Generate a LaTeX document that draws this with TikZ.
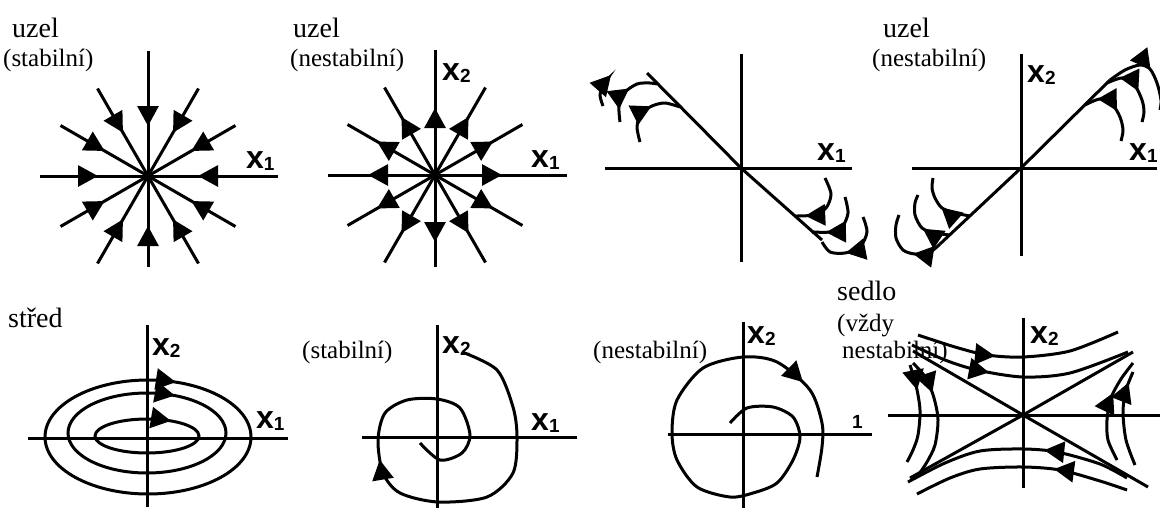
\documentclass[tikz,border=0pt]{standalone}
\usepackage{fontspec}
\setmainfont{Liberation Serif}
\setsansfont{Liberation Sans}
\usetikzlibrary{arrows.meta,decorations.markings,calc}
\newcommand{\xlab}[1]{x\raisebox{-2pt}{\fontsize{19}{19}\selectfont #1}}

\begin{document}
\begin{tikzpicture}[x=1pt, y=1pt,
    axis/.style={line width=3pt},
    traj/.style={line width=3pt},
    arrowat/.style={postaction={decorate}, decoration={markings,
        mark=at position #1 with {\arrow{Triangle[length=20pt,width=21pt]}}}},
    endarrow/.style={-{Triangle[length=20pt,width=21pt]}},
    title/.style={font=\fontsize{28}{28}\selectfont, anchor=base west, inner sep=0pt},
    note/.style={font=\fontsize{25}{25}\selectfont, anchor=base west, inner sep=0pt},
    axlab/.style={font=\fontsize{32}{32}\selectfont\sffamily\bfseries, anchor=base west, inner sep=0pt}]
\useasboundingbox (0,0) rectangle (1160,-509);
\fill[white] (0,0) rectangle (1160,-509);

% Stable node
\coordinate (o1) at (148,-176);
\foreach \a/\l in {0/130, 30/101, 60/101, 90/125, 120/101, 150/101,
    180/108, 210/101, 240/101, 270/91, 300/101, 330/101}
  \draw[traj, arrowat=-50pt] ($(o1)+(\a:\l)$) -- (o1);
\node[title] (uzel1) at (12,-37) {uzel};
\node[note] (stab1) at (3,-66) {(stabilní)};
\node[axlab] (p1x1) at (246,-168) {\xlab{1}};

% Unstable node
\coordinate (o2) at (435,-175);
\foreach \a/\l in {0/132, 30/101, 60/101, 90/125, 120/101, 150/101,
    180/107, 210/101, 240/101, 270/92, 300/101, 330/101}
  \draw[traj, arrowat=67pt] (o2) -- ($(o2)+(\a:\l)$);
\node[title] (uzel2) at (293,-37) {uzel};
\node[note] (nest2) at (290,-66) {(nestabilní)};
\node[axlab] (p2x1) at (531,-167) {\xlab{1}};
\node[axlab] (p2x2) at (442,-80) {\xlab{2}};

% Degenerate node, stable
\coordinate (o3) at (741,-168);
\draw[axis] (605,-168) -- (852,-168);
\draw[axis] (741,-54) -- (741,-262);
\draw[traj] (647,-73) -- (o3) -- (822,-240);
\draw[traj, endarrow] plot[smooth] coordinates {(603,-106) (600,-95) (604,-84) (611,-75)};
\draw[traj, arrowat=37pt] plot[smooth] coordinates {(620,-122) (619,-106) (624,-93) (637,-84) (650,-83) (657,-84)};
\draw[traj, arrowat=42pt] plot[smooth] coordinates {(640,-142) (637,-127) (641,-114) (652,-106) (665,-103) (680,-107)};
\draw[traj, arrowat=55pt] plot[smooth] coordinates {(825,-178) (831,-194) (826,-208) (813,-215) (795,-216)};
\draw[traj, arrowat=49pt] plot[smooth] coordinates {(845,-197) (848,-213) (842,-227) (830,-232) (812,-232)};
\draw[traj, arrowat=48pt] plot[smooth] coordinates {(863,-217) (867,-232) (860,-247) (845,-253) (830,-252) (822,-242)};
\node[axlab] (p3x1) at (817,-160) {\xlab{1}};

% Degenerate node, unstable
\coordinate (o4) at (1021,-168);
\draw[axis] (912,-168) -- (1157,-168);
\draw[axis] (1021,-54) -- (1021,-256);
\draw[traj] (940,-244) -- (o4) -- (1110,-80);
\draw[traj, arrowat=38pt] plot[smooth] coordinates {(1085,-105) (1100,-99) (1112,-104) (1120,-117) (1123,-130) (1121,-141)};
\draw[traj, arrowat=38pt] plot[smooth] coordinates {(1107,-83) (1122,-78) (1134,-84) (1142,-100) (1144,-112) (1142,-122)};
\draw[traj, arrowat=46pt] plot[smooth] coordinates {(1110,-80) (1125,-70) (1140,-65) (1150,-69) (1157,-83) (1161,-100) (1160,-110)};
\draw[traj, arrowat=30pt] plot[smooth] coordinates {(970,-216) (955,-213) (942,-208) (935,-198) (932,-188) (933,-178)};
\draw[traj, arrowat=28pt] plot[smooth] coordinates {(950,-235) (935,-233) (922,-228) (915,-215) (915,-203) (918,-195)};
\draw[traj, arrowat=30pt] plot[smooth] coordinates {(940,-244) (930,-252) (915,-254) (903,-250) (896,-238) (896,-225) (899,-215)};
\node[title] (uzel4) at (883,-37) {uzel};
\node[note] (nest4) at (872,-66) {(nestabilní)};
\node[axlab] (p4x2) at (1027,-82) {\xlab{2}};
\node[axlab] (p4x1) at (1129,-160) {\xlab{1}};

% Centre
\coordinate (o5) at (147,-438);
\draw[axis] (28,-438) -- (288,-438);
\draw[axis] (147,-325) -- (147,-507);
\draw[traj, arrowat=28pt] (148,-380) arc[start angle=90, end angle=-270, x radius=103, y radius=57];
\draw[traj, arrowat=28pt] (147,-393) arc[start angle=90, end angle=-270, x radius=79, y radius=40];
\draw[traj, arrowat=24pt] (147,-419) arc[start angle=90, end angle=-270, x radius=52, y radius=17];
\node[title] (stred) at (8,-327) {střed};
\node[axlab] (p5x2) at (152,-355) {\xlab{2}};
\node[axlab] (p5x1) at (256,-428) {\xlab{1}};

% Stable focus
\coordinate (o6) at (437,-437);
\draw[axis] (362,-437) -- (577,-437);
\draw[axis] (437,-325) -- (437,-508);
\draw[traj, arrowat=312pt] plot[smooth] coordinates {(462,-352) (497,-370) (513,-407) (517,-437)
    (513,-473) (487,-497) (438,-502) (400,-493) (383,-473) (378,-440) (385,-413) (407,-400)
    (437,-399) (460,-408) (470,-435) (462,-453) (440,-460) (420,-443)};
\node[note] (stab6) at (302,-358) {(stabilní)};
\node[axlab] (p6x2) at (442,-353) {\xlab{2}};
\node[axlab] (p6x1) at (531,-430) {\xlab{1}};

% Unstable focus
\coordinate (o7) at (743,-434);
\draw[axis] (668,-434) -- (872,-434);
\draw[axis] (743,-322) -- (743,-508);
\draw[traj, arrowat=476pt] plot[smooth] coordinates {(730,-423) (747,-408) (773,-407) (793,-417)
    (800,-437) (793,-460) (777,-483) (753,-493) (730,-497) (697,-487) (677,-460) (672,-433)
    (677,-400) (703,-368) (743,-357) (777,-362) (810,-390) (822,-423) (822,-447) (817,-477)};
\node[note] (nest7) at (593,-358) {(nestabilní)};
\node[axlab] (p7x2) at (747,-343) {\xlab{2}};
\node[axlab] (p7one) at (852,-428) {\fontsize{19}{19}\selectfont 1};

% Saddle
\coordinate (o8) at (1023,-415);
\draw[axis] (888,-415) -- (1160,-415);
\draw[axis] (1023,-318) -- (1023,-488);
\draw[traj] (913,-351) -- (o8) -- (1148,-487);
\draw[traj] (910,-478) -- (o8) -- (1133,-352);
\draw[traj, arrowat=80pt] plot[smooth] coordinates {(918,-335) (955,-347) (987,-355) (1023,-357) (1070,-351) (1118,-332)};
\draw[traj, arrowat=82pt] plot[smooth] coordinates {(912,-345) (945,-360) (977,-370) (1023,-377) (1070,-373) (1128,-352)};
\draw[traj, arrowat=88pt] plot[smooth] coordinates {(1127,-478) (1100,-464) (1057,-452) (1023,-449) (980,-451) (945,-463) (908,-482)};
\draw[traj, arrowat=76pt] plot[smooth] coordinates {(1127,-490) (1100,-481) (1060,-470) (1023,-467) (980,-469) (950,-478) (917,-494)};
\draw[traj, arrowat=26pt] plot[smooth] coordinates {(910,-365) (916,-385) (920,-410) (918,-435) (913,-450) (907,-462)};
\draw[traj, arrowat=36pt] plot[smooth] coordinates {(913,-363) (926,-378) (934,-398) (938,-420) (935,-445) (927,-462) (919,-474)};
\draw[traj, arrowat=70pt] plot[smooth] coordinates {(1117,-460) (1108,-440) (1107,-420) (1111,-398) (1121,-379) (1133,-363)};
\draw[traj, arrowat=85pt] plot[smooth] coordinates {(1135,-465) (1126,-440) (1123,-412) (1126,-390) (1133,-372)};
\node[title] (sedlo) at (837,-300) {sedlo};
\node[note] (vzdy) at (837,-331) {(vždy};
\node[note] (nest8) at (842,-358) {nestabilní)};
\node[axlab] (p8x2) at (1030,-343) {\xlab{2}};
\end{tikzpicture}
\end{document}
